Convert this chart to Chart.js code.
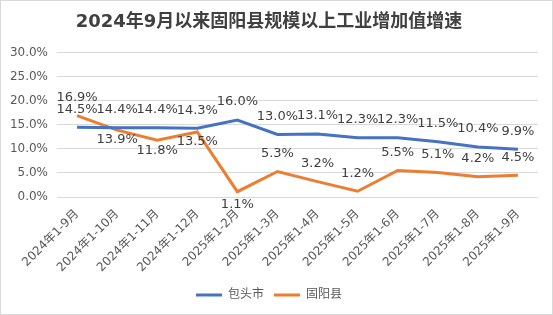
<!DOCTYPE html>
<html>
<head>
<meta charset="utf-8">
<script src="https://cdn.jsdelivr.net/npm/chart.js@4/dist/chart.umd.min.js"></script>
<style>
  html, body { margin: 0; padding: 0; background: #fff; }
  #box { width: 553px; height: 315px; }
</style>
</head>
<body>
<div id="box"><canvas id="chart" width="553" height="315"></canvas></div>
<script>
"use strict"

const months = ["2024年1-9月", "2024年1-10月", "2024年1-11月", "2024年1-12月", "2025年1-2月", "2025年1-3月",
                "2025年1-4月", "2025年1-5月", "2025年1-6月", "2025年1-7月", "2025年1-8月", "2025年1-9月"];
const baotou = [14.5, 14.4, 14.4, 14.3, 16.0, 13.0, 13.1, 12.3, 12.3, 11.5, 10.4, 9.9];
const guyang = [16.9, 13.9, 11.8, 13.5, 1.1, 5.3, 3.2, 1.2, 5.5, 5.1, 4.2, 4.5];

// where each value label sits: 'a' above the point, 'b' below
const baotouSide = ["a","a","a","a","a","a","a","a","a","a","a","a"];
const guyangSide = ["a","b","b","b","b","a","a","a","a","a","a","a"];

const FONT = "'DejaVu Sans', 'Noto Sans CJK SC', sans-serif";

// white background + thin grey frame
const frame = {
  id: "frame",
  beforeDraw(chart) {
    const ctx = chart.ctx;
    ctx.save();
    ctx.fillStyle = "#fff";
    ctx.fillRect(0, 0, chart.width, chart.height);
    ctx.strokeStyle = "#d9d9d9";
    ctx.lineWidth = 1;
    ctx.strokeRect(0.5, 0.5, chart.width - 1, chart.height - 1);
    ctx.restore();
  }
};

// value labels, like excel data labels
const valueLabels = {
  id: "valueLabels",
  afterDatasetsDraw(chart) {
    const ctx = chart.ctx;
    const sides = [baotouSide, guyangSide];
    ctx.save();
    ctx.font = "13px " + FONT;
    ctx.fillStyle = "#404040";
    ctx.textAlign = "center";
    ctx.textBaseline = "middle";
    chart.data.datasets.forEach((ds, i) => {
      chart.getDatasetMeta(i).data.forEach((pt, j) => {
        const dy = sides[i][j] === "a" ? -18 : (ds.data[j] < 3 ? 13 : 10);
        ctx.fillText(ds.data[j].toFixed(1) + "%", pt.x, pt.y + dy);
      });
    });
    ctx.restore();
  }
};

new Chart(document.getElementById("chart"), {
  type: "line",
  data: {
    labels: months,
    datasets: [
      { label: "包头市", data: baotou, borderColor: "#4472C4", backgroundColor: "#4472C4",
        borderWidth: 3, pointRadius: 0, tension: 0 },
      { label: "固阳县", data: guyang, borderColor: "#ED7D31", backgroundColor: "#ED7D31",
        borderWidth: 3, pointRadius: 0, tension: 0 }
    ]
  },
  options: {
    responsive: false,
    animation: false,
    layout: { padding: { left: 0, right: 15, top: 8, bottom: 4 } },
    plugins: {
      title: {
        display: true,
        text: "2024年9月以来固阳县规模以上工业增加值增速",
        color: "#404040",
        font: { family: FONT, size: 18, weight: "bold" },
        padding: { top: 4, bottom: 19 }
      },
      legend: {
        position: "bottom",
        labels: {
          color: "#595959",
          font: { family: FONT, size: 12 },
          usePointStyle: true,
          pointStyle: "line",
          pointStyleWidth: 26,
          padding: 10
        }
      },
      tooltip: { enabled: false }
    },
    scales: {
      x: {
        offset: true,
        grid: { display: false },
        border: { display: false },
        ticks: {
          color: "#595959",
          font: { family: FONT, size: 12 },
          minRotation: 45,
          maxRotation: 45,
          autoSkip: false,
          padding: 2
        },
        afterFit(scale) { scale.height = 82; }
      },
      y: {
        min: 0,
        max: 30,
        grid: { color: "#d9d9d9", drawTicks: false },
        border: { display: false },
        ticks: {
          stepSize: 5,
          color: "#595959",
          font: { family: FONT, size: 12 },
          padding: 9,
          callback: v => v.toFixed(1) + "%"
        },
        afterFit(scale) { scale.width = 57; }
      }
    }
  },
  plugins: [frame, valueLabels]
});
</script>
</body>
</html>
